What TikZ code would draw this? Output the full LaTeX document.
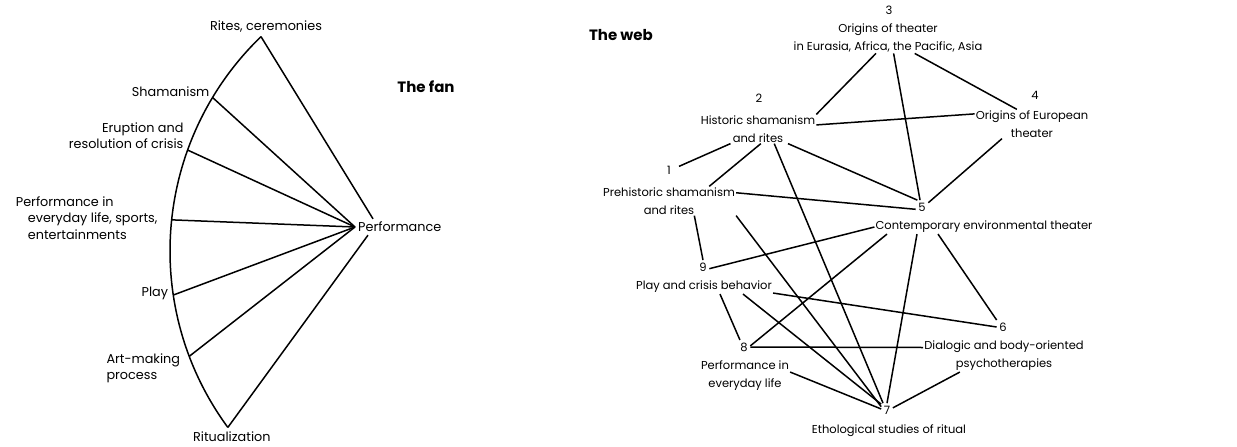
\documentclass[tikz,border=0pt]{standalone}
\usepackage{fontspec}
\setmainfont{Poppins}
\usetikzlibrary{positioning}

\tikzset{
  every node/.style={font=\fontsize{11.5}{18}\selectfont, inner sep=1pt},
  lbl/.style={align=center},
  fanlbl/.style={font=\fontsize{12.8}{16.5}\selectfont},
  num/.style={inner sep=2.5pt},
  title/.style={font=\fontsize{15}{18}\selectfont\bfseries},
  link/.style={line width=1.5pt},
}

\begin{document}
\begin{tikzpicture}[x=1pt,y=-1pt]
	\useasboundingbox (0,0) rectangle (1237,447);
	% The fan
	\coordinate (fanC) at (468,251);
	\foreach \a/\n in {134/pRites,149/pSham,160.2/pErupt,174/pLife,188.5/pPlay,200.7/pArt,216.3/pRitual}
		\path (fanC) ++(\a:298pt) coordinate (\n);
	\draw[link] (pRites) arc[start angle=134, end angle=216.3, radius=298pt];

	\node[fanlbl, above=3pt of pRites, xshift=5pt] {Rites, ceremonies};
	\node[fanlbl, above left=0pt and 2pt of pSham] {Shamanism};
	\node[fanlbl, align=right, above left=0pt and 3pt of pErupt] {Eruption and\\resolution of crisis};
	\node[fanlbl, align=left, left=13pt of pLife, yshift=2pt] {Performance in\\\hspace*{12pt}everyday life, sports,\\\hspace*{12pt}entertainments};
	\node[fanlbl, left=4pt of pPlay, yshift=2pt] {Play};
	\node[fanlbl, align=left, below left=-4pt and 8pt of pArt] {Art-making\\process};
	\node[fanlbl, below=3pt of pRitual, xshift=4pt] {Ritualization};
	\node[fanlbl, anchor=west, inner sep=3pt] (perf) at (355,227) {Performance};
	\node[title] at (426,87) {The fan};

	\foreach \p in {pSham,pErupt,pLife,pPlay,pArt}
		\draw[link] (\p) -- (perf.west);
	\draw[link] (pRites) -- ([xshift=18pt]perf.north west);
	\draw[link] (pRitual) -- ([xshift=13pt]perf.south west);

	% The web
	\node[title] at (621,35) {The web};
	\node[num] (n3) at (889,10) {3};
	\node[lbl] (t3) at (888,38) {Origins of theater\\in Eurasia, Africa, the Pacific, Asia};
	\node[num] (n2) at (759,98) {2};
	\node[lbl] (t2) at (758,129) {Historic shamanism\\and rites};
	\node[num] (n4) at (1035,95) {4};
	\node[lbl] (t4) at (1032,124) {Origins of European\\theater};
	\node[num] (n1) at (669,170) {1};
	\node[lbl] (t1) at (669,201) {Prehistoric shamanism\\and rites};
	\node[num] (n5) at (922,207) {5};
	\node[lbl] (t5) at (984,227) {Contemporary environmental theater};
	\node[num] (n9) at (703,267) {9};
	\node[lbl] (t9) at (704,287) {Play and crisis behavior};
	\node[num] (n6) at (1003,327) {6};
	\node[lbl] (t6) at (1004,356) {Dialogic and body-oriented\\psychotherapies};
	\node[num] (n8) at (744,347) {8};
	\node[lbl] (t8) at (745,376) {Performance in\\everyday life};
	\node[num] (n7) at (887,410) {7};
	\node[lbl] (t7) at (889,431) {Ethological studies of ritual};

	\draw[link] (t3.232) -- (t2.north east);
	\draw[link] (t3.290) -- (n5.106);
	\draw[link] (t3.330) -- (t4.136);
	\draw[link] (t2.4) -- (t4.170);
	\draw[link] (t2.334) -- (n5.124);
	\draw[link, shorten <=6pt] (n1.15) -- (t2.208);
	\draw[link] (t2.281) -- (t1.20);
	\draw[link] (t2.318) -- (n7.120);
	\draw[link] (t1.7) -- (n5.200);
	\draw[link] (t1.south east) -- (n7.150);
	\draw[link] (t1.330) -- (n9.north);
	\draw[link] (t4.206) -- (n5.34);
	\draw[link] (n9.-15) -- (t5.west);
	\draw[link] ([xshift=-97pt]t5.south) -- (n8.10);
	\draw[link] ([xshift=-67pt]t5.south) -- (n7.north);
	\draw[link] ([xshift=-46pt]t5.south) -- (n6.north west);
	\draw[link] (t9.-5) -- (n6.west);
	\draw[link] ([xshift=16pt]t9.south) -- (n8.120);
	\draw[link] ([xshift=39pt]t9.south) -- (n7.135);
	\draw[link] (n8.east) -- (t6.174);
	\draw[link] (t8.5) -- (n7.170);
	\draw[link] (t6.200) -- (n7.20);
\end{tikzpicture}
\end{document}
